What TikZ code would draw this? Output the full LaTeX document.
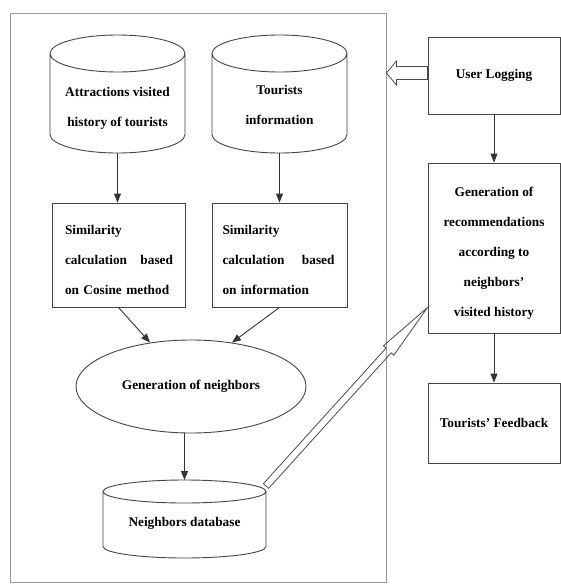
\documentclass[tikz,border=0pt]{standalone}
\usepackage{fontspec}
\setmainfont{Liberation Serif}
\usetikzlibrary{calc,arrows.meta,shapes.geometric}
\newcommand{\cylout}[2]{%
  \draw[ln] let \p1=(#1.north west), \p2=(#1.south east), \n1={(\x2-\x1)/2} in
    (\x1,{\y1-#2pt}) -- (\x1,{\y2+#2pt})
    arc[start angle=180, end angle=360, x radius={\n1*1pt}, y radius=#2pt]
    -- (\x2,{\y1-#2pt})
    ({\x1+\n1*1pt},{\y1-#2pt}) ellipse[x radius={\n1*1pt}, y radius=#2pt];
}
\newcommand{\hollowarrow}[5]{%
  \coordinate (hbase) at ($(#2)!#5!(#1)$);
  \draw[hollow] ($(#1)!#3!90:(#2)$) -- ($(hbase)!#3!90:(#2)$)
    -- ($(hbase)!#4!90:(#2)$) -- (#2) -- ($(hbase)!#4!-90:(#2)$)
    -- ($(hbase)!#3!-90:(#2)$) -- ($(#1)!#3!-90:(#2)$) -- cycle;
}
\newcommand{\spreadline}[2]{\leavevmode\hbox to #1{#2}}
\begin{document}
\begin{tikzpicture}[x=1pt,y=-1pt,
  ln/.style={draw=gray!55!black, line width=0.9pt},
  framebox/.style={draw=gray!80, line width=0.9pt, rectangle, inner sep=0pt},
  box/.style={ln, rectangle, inner sep=0pt},
  cylzone/.style={rectangle, inner sep=0pt, outer sep=0pt},
  txt/.style={font=\bfseries\fontsize{13.3}{30}\selectfont, align=center, inner sep=0pt},
  arr/.style={draw=black!80, line width=0.9pt, -{Triangle[length=9pt,width=7pt]}},
  hollow/.style={draw=gray!60!black, line width=0.8pt, line join=miter}]
\useasboundingbox (0,0) rectangle (561,586);
\fill[white] (0,0) rectangle (561,586);

% outer frame
\node[framebox, minimum width=376pt, minimum height=569pt] (frame) at (198,297.5) {};

% data stores
\node[cylzone, minimum width=135pt, minimum height=118pt] (c1) at (117.5,94) {};
\cylout{c1}{18.5}
\node[txt] (c1t) at (117.5,108) {Attractions visited\\history of tourists};

\node[cylzone, minimum width=135pt, minimum height=118pt] (c2) at (279.5,94) {};
\cylout{c2}{18.5}
\node[txt] (c2t) at (279.5,105) {Tourists\\information};

% similarity boxes
\node[box, minimum width=133pt, minimum height=104pt] (b1) at (118.5,255) {};
\node[txt, align=left, text width=108pt] (b1t) at (119,260)
  {Similarity\\\spreadline{108pt}{calculation\hfill based}\\on Cosine method};
\node[box, minimum width=135pt, minimum height=104pt] (b2) at (279.5,255) {};
\node[txt, align=left, text width=112pt] (b2t) at (278.5,260)
  {Similarity\\\spreadline{112pt}{calculation\hfill based}\\on information};

% neighbours
\node[ellipse, ln, txt, minimum width=230pt, minimum height=93pt] (gen) at (191,386.5) {Generation of neighbors};
\node[cylzone, minimum width=163pt, minimum height=78pt] (nbdb) at (184.5,519) {};
\cylout{nbdb}{11.5}
\node[txt] (nbdbt) at (184.5,523) {Neighbors database};

% right column
\node[box, txt, minimum width=132pt, minimum height=77pt] (ul) at (494,75.5) {User Logging};
\node[box, minimum width=132pt, minimum height=170pt] (rec) at (494,248) {};
\node[txt] (rect) at (494,253) {Generation of\\recommendations\\according to\\neighbors’\\visited history};
\node[box, txt, minimum width=132pt, minimum height=80pt] (fb) at (494,423) {Tourists’ Feedback};

% connectors
\draw[arr] (c1.south) -- (c1.south |- b1.north);
\draw[arr] (c2.south) -- (c2.south |- b2.north);
\draw[arr] (b1.south) -- (gen.133);
\draw[arr] (b2.south) -- (gen.47);
\draw[arr] (nbdb.north |- gen.south) -- (nbdb.north);
\draw[arr] (ul.south) -- (rec.north);
\draw[arr] (rec.south) -- (fb.north);

% hollow arrows
\coordinate (ha1) at ([yshift=2.5pt]ul.west);
\coordinate (hb1) at (frame.east |- ha1);
\hollowarrow{ha1}{hb1}{6.5pt}{12pt}{10pt}
\coordinate (ha2) at ([yshift=-6pt]nbdb.north east);
\coordinate (hb2) at ([yshift=26pt]rec.south west);
\hollowarrow{ha2}{hb2}{3.5pt}{7pt}{58pt}
\end{tikzpicture}
\end{document}
